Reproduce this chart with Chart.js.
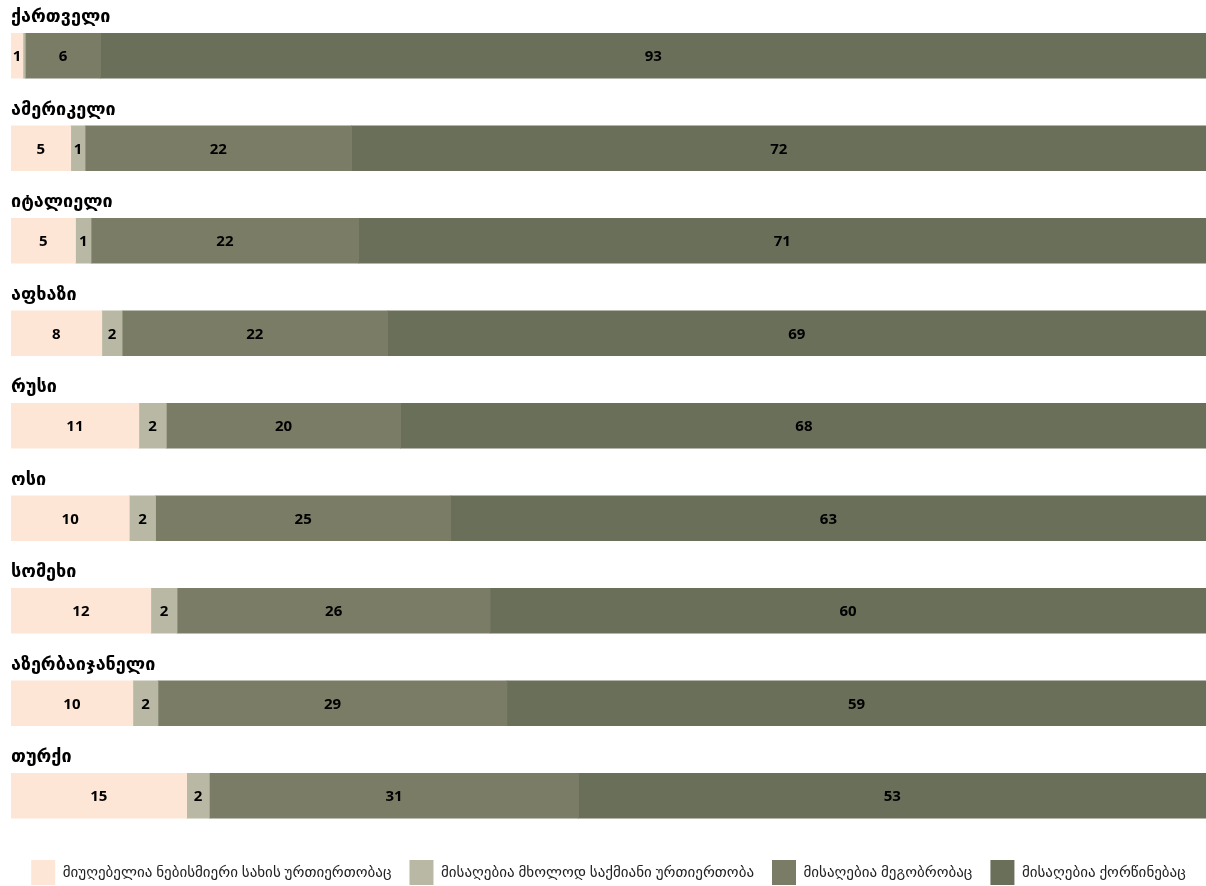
<!DOCTYPE html>
<html>
<head>
<meta charset="utf-8">
<script src="https://cdn.jsdelivr.net/npm/chart.js@4"></script>
<style>
  html, body { margin: 0; padding: 0; background: #fff; }
  #wrap { width: 1206px; height: 886px; }
</style>
</head>
<body>
<div id="wrap"><canvas id="myChart"></canvas></div>
<script>
// categories (rows)
const categories = ['ქართველი', 'ამერიკელი', 'იტალიელი', 'აფხაზი', 'რუსი', 'ოსი', 'სომეხი', 'აზერბაიჯანელი', 'თურქი'];

// series (percent)
const unacceptable = [1.0, 5.0, 5.4, 7.6, 10.7, 9.9, 11.7, 10.2, 14.7];
const businessOnly = [0.2, 1.2, 1.3, 1.7, 2.3, 2.2, 2.2, 2.1, 1.9];
const friendship = [6.3, 22.3, 22.4, 22.2, 19.6, 24.7, 26.2, 29.2, 30.9];
const marriage = [92.5, 71.5, 70.9, 68.5, 67.5, 63.2, 59.9, 58.5, 52.5];

const seriesNames = [
    'მიუღებელია ნებისმიერი სახის ურთიერთობაც',
    'მისაღებია მხოლოდ საქმიანი ურთიერთობა',
    'მისაღებია მეგობრობაც',
    'მისაღებია ქორწინებაც'
];
const seriesColors = ['#fee6d6', '#b8b8a4', '#7a7c66', '#6a6f5a'];

const FONT = "'Open Sans', 'DejaVu Sans', sans-serif";

// category titles above each bar + value labels inside segments
const barText = {
    id: 'barText',
    afterDatasetsDraw(chart) {
        const ctx = chart.ctx;
        ctx.save();
        ctx.textBaseline = 'middle';
        // values
        ctx.fillStyle = '#000';
        ctx.textAlign = 'center';
        ctx.font = 'bold 15px ' + FONT;
        chart.data.datasets.forEach((ds, di) => {
            const meta = chart.getDatasetMeta(di);
            meta.data.forEach((bar, i) => {
                const v = ds.data[i];
                if (v < 0.5) return;
                const cx = (bar.x + bar.base) / 2;
                ctx.fillText(String(Math.round(v)), cx, bar.y + 1);
            });
        });
        // row titles
        ctx.textAlign = 'left';
        ctx.font = 'bold 18px ' + FONT;
        const meta0 = chart.getDatasetMeta(0);
        meta0.data.forEach((bar, i) => {
            ctx.fillText(chart.data.labels[i], chart.chartArea.left, bar.y - bar.height / 2 - 16);
        });
        ctx.restore();
    }
};

const ctx = document.getElementById('myChart').getContext('2d');
new Chart(ctx, {
    type: 'bar',
    data: {
        labels: categories,
        datasets: [unacceptable, businessOnly, friendship, marriage].map((d, k) => ({
            label: seriesNames[k],
            data: d,
            backgroundColor: seriesColors[k],
            borderWidth: 0,
            barThickness: 45
        }))
    },
    options: {
        indexAxis: 'y',
        responsive: true,
        maintainAspectRatio: false,
        animation: false,
        layout: { padding: { top: 9.5, left: 11, right: 0, bottom: -9 } },
        scales: {
            x: { stacked: true, min: 0, max: 100, display: false },
            y: { stacked: true, display: false }
        },
        plugins: {
            legend: {
                position: 'bottom',
                labels: {
                    boxWidth: 24,
                    boxHeight: 25,
                    padding: 18,
                    color: '#222',
                    font: { family: FONT, size: 15 }
                }
            },
            tooltip: { enabled: false }
        }
    },
    plugins: [barText]
});
</script>
</body>
</html>
